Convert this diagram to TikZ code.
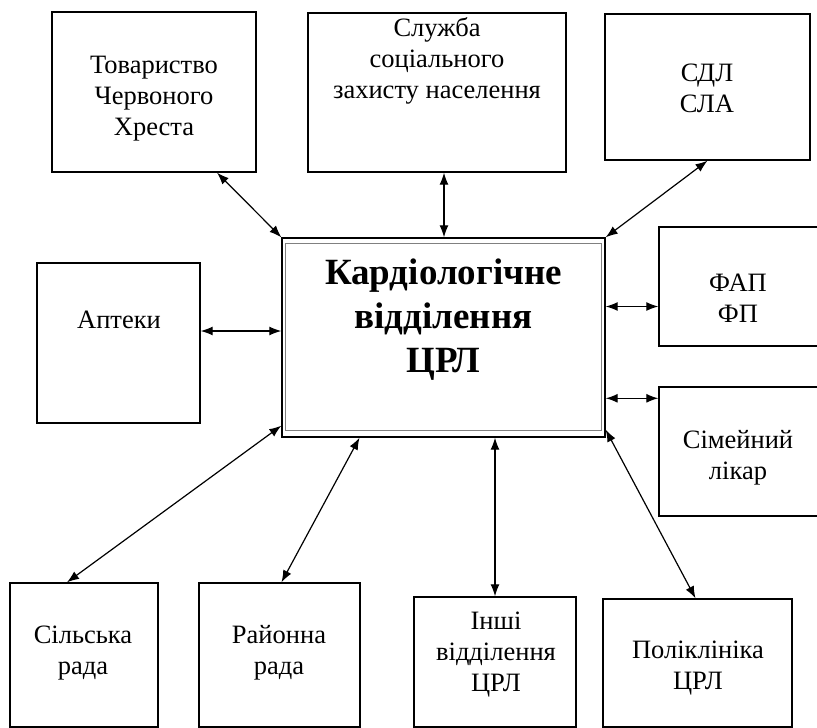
\documentclass[tikz,border=0pt]{standalone}
\usepackage{fontspec}
\setmainfont{Liberation Serif}
\usetikzlibrary{arrows.meta}
\begin{document}
\begin{tikzpicture}[x=1pt,y=-1pt,
  box/.style={draw=black,line width=1.4pt,rectangle,inner sep=0pt},
  txt/.style={align=center,inner sep=0pt,font=\fontsize{26.5}{31}\selectfont},
  link/.style={line width=1.2pt,{Latex[length=12pt,width=9pt]}-{Latex[length=12pt,width=9pt]}}]
\useasboundingbox[fill=white] (0,0) rectangle (817,728);
% boxes
\node[box,minimum width=204,minimum height=160] (tov) at (154,92) {};
\node[box,minimum width=258,minimum height=159] (slu) at (437,92.5) {};
\node[box,minimum width=205,minimum height=146] (sdl) at (707.5,87) {};
\node[box,minimum width=163,minimum height=160] (apt) at (118.5,343) {};
\node[box,minimum width=323,minimum height=199] (main) at (443.5,337.5) {};
\draw[gray,line width=1pt] ([shift={(4,6)}]main.north west) rectangle ([shift={(-4,-7)}]main.south east);
\node[box,minimum width=160,minimum height=119] (fap) at (739,286.5) {};
\node[box,minimum width=160,minimum height=129] (sim) at (739,451.5) {};
\node[box,minimum width=148,minimum height=144] (sil) at (84,655) {};
\node[box,minimum width=161,minimum height=144] (ray) at (279.5,655) {};
\node[box,minimum width=162,minimum height=130] (insh) at (495,662) {};
\node[box,minimum width=189,minimum height=128] (pol) at (697.5,663) {};
% texts
\node[txt] (ttov) at (154,99) {Товариство\\Червоного\\Хреста};
\node[txt] (tslu) at (437,61) {Служба\\соціального\\захисту населення};
\node[txt] (tsdl) at (707,88) {СДЛ\\СЛА};
\node[txt] (tapt) at (119,320) {Аптеки};
\node[align=center,inner sep=0pt,font=\fontsize{37}{44}\selectfont\bfseries] (tmain) at (443.5,320) {Кардіологічне\\відділення\\ЦРЛ};
\node[txt] (tfap) at (738,298) {ФАП\\ФП};
\node[txt] (tsim) at (738,458) {Сімейний\\лікар};
\node[txt] (tsil) at (83,653) {Сільська\\рада};
\node[txt] (tray) at (279,653) {Районна\\рада};
\node[txt] (tinsh) at (496,655) {Інші\\відділення\\ЦРЛ};
\node[txt] (tpol) at (698,668) {Поліклініка\\ЦРЛ};
% connectors
\draw[link] (tov.-52) -- (main.north west);
\draw[link] ([xshift=7pt]slu.south) -- ([xshift=7pt]slu.south |- main.north);
\draw[link] (sdl.south) -- (main.north east);
\draw[link] ([yshift=12pt]apt.east) -- ([yshift=12pt]apt.east -| main.west);
\draw[link] ([yshift=-20pt]fap.west) -- ([yshift=-20pt]fap.west -| main.east);
\draw[link] ([yshift=-12pt]sim.north west) -- ([yshift=-12pt]sim.north west -| main.east);
\draw[link] ([xshift=-17pt]sil.north) -- ([yshift=12pt]main.south west);
\draw[link] ([xshift=2pt]ray.north) -- ([xshift=-84pt]main.south);
\draw[link] (insh.north) -- (insh.north |- main.south);
\draw[link] ([xshift=-2pt]pol.north) -- ([yshift=8pt]main.south east);
\end{tikzpicture}
\end{document}
